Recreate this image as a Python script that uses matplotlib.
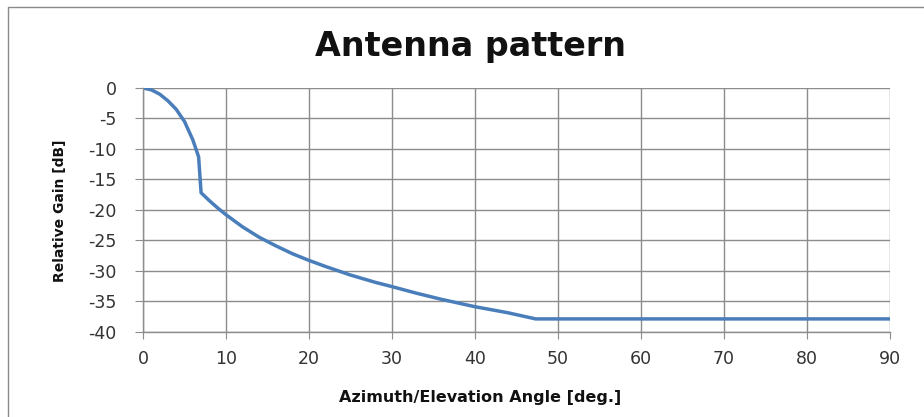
import matplotlib
matplotlib.use("Agg")
import matplotlib.pyplot as plt
from matplotlib.lines import Line2D

angle = [0, 1, 2, 3, 4, 5, 6, 6.7, 7.0, 8, 9, 10, 12, 14, 16, 18, 20, 22, 25, 28,
         30, 33, 36, 40, 44, 47.3, 50, 60, 70, 80, 90]
gain = [0, -0.3, -1.0, -2.1, -3.5, -5.5, -8.5, -11.3, -17.2, -18.5, -19.7, -20.8,
        -22.8, -24.5, -25.9, -27.2, -28.3, -29.3, -30.7, -31.9, -32.6, -33.7, -34.7,
        -35.9, -36.9, -37.9, -37.9, -37.9, -37.9, -37.9, -37.9]
xticks = [0, 10, 20, 30, 40, 50, 60, 70, 80, 90]
yticks = [0, -5, -10, -15, -20, -25, -30, -35, -40]

plt.rcParams['font.family'] = ['DejaVu Sans']
plt.rcParams['axes.unicode_minus'] = False

W, H = 924, 417
fig = plt.figure(figsize=(W/100, H/100), dpi=100)
x0, x1, ytop, ybot = 143, 890, 88, 331.7
ax = fig.add_axes([x0/W, 1-ybot/H, (x1-x0)/W, (ybot-ytop)/H])

grid_c = '#8c8c8c'
ax.plot(angle, gain, color='#4a7ebb', lw=2.5, solid_joinstyle='round')
ax.set_xlim(0, 90)
ax.set_ylim(-40, 0)
ax.set_xticks(xticks)
ax.set_yticks(yticks)
ax.grid(True, color=grid_c, lw=1.0)
ax.set_axisbelow(True)
for s in ['top', 'right']:
    ax.spines[s].set_visible(False)
for s in ['left', 'bottom']:
    ax.spines[s].set_color(grid_c)
    ax.spines[s].set_linewidth(1.0)
ax.tick_params(direction='out', color=grid_c, labelsize=12.5, labelcolor='#333333')
ax.tick_params(axis='x', length=5, pad=8)
ax.tick_params(axis='y', length=6, pad=13)

ax.set_xlabel('Azimuth/Elevation Angle [deg.]', fontsize=11.5, fontweight='bold',
              color='#111111')
ax.xaxis.set_label_coords((480-x0)/(x1-x0), (ybot-390)/(ybot-ytop))
ax.set_ylabel('Relative Gain [dB]', fontsize=10, fontweight='bold', color='#111111')
ax.yaxis.set_label_coords((67-x0)/(x1-x0), (ybot-211)/(ybot-ytop))

fig.text(470/W, 1-56/H, 'Antenna pattern', ha='center', va='baseline',
         fontsize=24, fontweight='bold', color='#111111')

fig.add_artist(Line2D([8/W, 8/W, 1.0], [0.0, 1-7/H, 1-7/H],
                      transform=fig.transFigure, color='#8a8a8a', lw=1.0))

fig.savefig('out.png', dpi=100)
